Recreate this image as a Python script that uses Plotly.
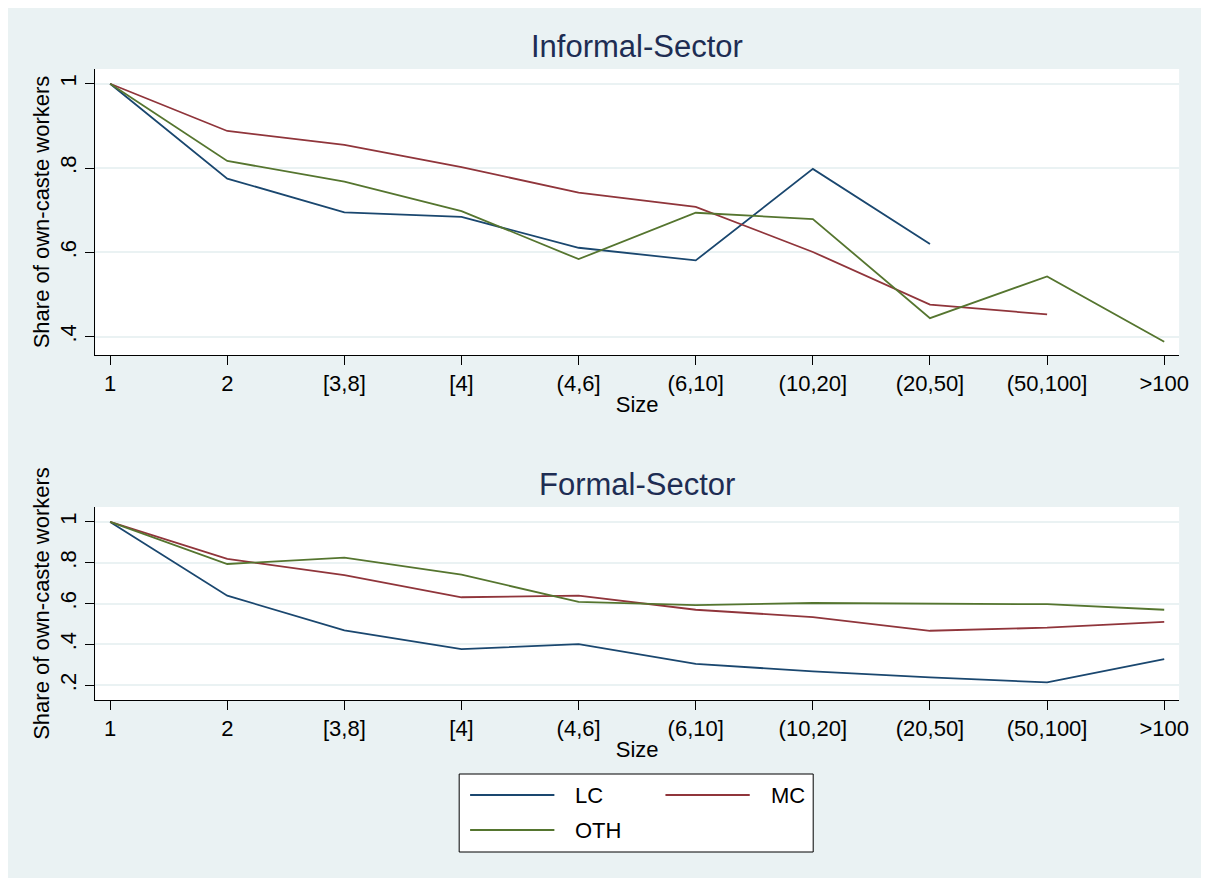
import plotly.graph_objects as go
from plotly.subplots import make_subplots

# firm size categories on the x axis
sizes = ['1', '2', '[3,8]', '[4]', '(4,6]', '(6,10]', '(10,20]', '(20,50]', '(50,100]', '>100']

# informal sector shares
inf_lc = [1.0, 0.775, 0.695, 0.684, 0.611, 0.581, 0.798, 0.620, None, None]
inf_mc = [1.0, 0.888, 0.855, 0.802, 0.742, 0.708, 0.601, 0.476, 0.453, None]
inf_oth = [1.0, 0.817, 0.768, 0.698, 0.584, 0.694, 0.679, 0.444, 0.543, 0.388]

# formal sector shares
for_lc = [1.0, 0.639, 0.469, 0.377, 0.402, 0.305, 0.268, 0.239, 0.214, 0.328]
for_mc = [1.0, 0.819, 0.739, 0.631, 0.639, 0.570, 0.534, 0.467, 0.482, 0.511]
for_oth = [1.0, 0.794, 0.825, 0.742, 0.608, 0.593, 0.603, 0.600, 0.597, 0.570]

inf_ticks = [0.4, 0.6, 0.8, 1.0]
inf_ticktext = ['.4', '.6', '.8', '1']
for_ticks = [0.2, 0.4, 0.6, 0.8, 1.0]
for_ticktext = ['.2', '.4', '.6', '.8', '1']

names = ['LC', 'MC', 'OTH']
colors = ['#1a476f', '#90353b', '#55752f']

# page body margin puts the figure 8px in from the corner, and the
# page width caps the figure at window width minus both margins
OFF = 8
W, H = 1209 - 2 * OFF, 878 - OFF
BG = '#EAF2F3'
FONT = 'Arial, Liberation Sans, sans-serif'

fig = make_subplots(rows=2, cols=1)

for row, series in [(1, [inf_lc, inf_mc, inf_oth]), (2, [for_lc, for_mc, for_oth])]:
    for name, col, vals in zip(names, colors, series):
        fig.add_trace(go.Scatter(x=sizes, y=vals, mode='lines', name=name,
                                 line=dict(color=col, width=1.8),
                                 showlegend=False, connectgaps=False),
                      row=row, col=1)

# screen pixel -> paper fraction
def px(x):
    return (x - OFF) / W

def py(y):
    return 1 - (y - OFF) / H

xdom = [px(96), px(1189)]
axis_common = dict(showline=True, linecolor='black', linewidth=1,
                   ticks='outside', ticklen=9, tickcolor='black',
                   tickfont=dict(size=22, color='black', family=FONT))

fig.update_xaxes(domain=xdom, type='category', range=[-0.127, 9.127],
                 showgrid=False, zeroline=False,
                 title=dict(text='Size', font=dict(size=22, color='black', family=FONT), standoff=1),
                 **axis_common)

fig.update_yaxes(showgrid=True, gridcolor=BG, gridwidth=1.5, zeroline=False,
                 tickangle=-90,
                 title=dict(text='Share of own-caste workers',
                            font=dict(size=22, color='black', family=FONT), standoff=0),
                 **axis_common)

fig.update_layout(
    yaxis=dict(domain=[py(355), py(69)], range=[0.3566, 1.035],
               tickvals=inf_ticks, ticktext=inf_ticktext),
    yaxis2=dict(domain=[py(700), py(507)], range=[0.128, 1.073],
                tickvals=for_ticks, ticktext=for_ticktext),
)

shapes = [
    # legend box
    dict(type='rect', xref='paper', yref='paper', x0=px(463), x1=px(820),
         y0=py(852), y1=py(774), fillcolor='white', line=dict(color='black', width=1)),
]
annotations = [
    dict(text='Informal-Sector', x=px(642.5), y=py(46), xref='paper', yref='paper',
         xanchor='center', yanchor='middle', showarrow=False,
         font=dict(size=31, color='#1e2d53', family=FONT)),
    dict(text='Formal-Sector', x=px(642.5), y=py(484), xref='paper', yref='paper',
         xanchor='center', yanchor='middle', showarrow=False,
         font=dict(size=31, color='#1e2d53', family=FONT)),
]

legend_pos = [(474, 795), (671, 795), (474, 830)]
for name, col, (lx, ly) in zip(names, colors, legend_pos):
    shapes.append(dict(type='line', xref='paper', yref='paper', x0=px(lx), x1=px(lx + 85),
                       y0=py(ly), y1=py(ly), line=dict(color=col, width=1.8)))
    annotations.append(dict(text=name, x=px(lx + 104), y=py(ly), xref='paper', yref='paper',
                            xanchor='left', yanchor='middle', showarrow=False,
                            font=dict(size=22, color='black', family=FONT)))

fig.update_layout(
    width=W, height=H,
    margin=dict(l=0, r=0, t=0, b=0),
    paper_bgcolor=BG, plot_bgcolor='white',
    shapes=shapes, annotations=annotations,
)

fig.write_html('out.html')
